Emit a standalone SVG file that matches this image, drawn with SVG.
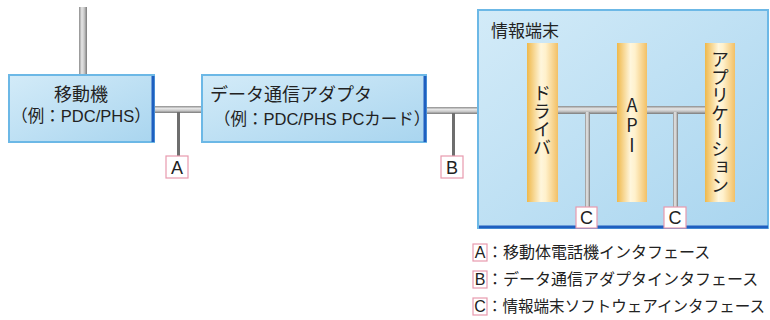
<svg xmlns="http://www.w3.org/2000/svg" width="770" height="320" viewBox="0 0 770 320">
<defs>
<linearGradient id="boxFill" x1="0" y1="0" x2="1" y2="1">
<stop offset="0" stop-color="#d3ebf8"/>
<stop offset="1" stop-color="#a9d5ef"/>
</linearGradient>
<linearGradient id="pillar" x1="0" y1="0" x2="1" y2="0">
<stop offset="0" stop-color="#efb84a"/>
<stop offset="0.45" stop-color="#fff6dc"/>
<stop offset="0.6" stop-color="#fff1cc"/>
<stop offset="1" stop-color="#f2c066"/>
</linearGradient>
<linearGradient id="barH" x1="0" y1="0" x2="0" y2="1">
<stop offset="0" stop-color="#8c8c8c"/>
<stop offset="0.35" stop-color="#e6e6e6"/>
<stop offset="0.65" stop-color="#c8c8c8"/>
<stop offset="1" stop-color="#7a7a7a"/>
</linearGradient>
<linearGradient id="barV" x1="0" y1="0" x2="1" y2="0">
<stop offset="0" stop-color="#8c8c8c"/>
<stop offset="0.35" stop-color="#e6e6e6"/>
<stop offset="0.65" stop-color="#c8c8c8"/>
<stop offset="1" stop-color="#7a7a7a"/>
</linearGradient>
</defs>
<style>
.box{fill:url(#boxFill);stroke:#6cb8e6;stroke-width:2}
.edge{stroke:#1f5fc0;stroke-width:3;fill:none}
.pil{fill:url(#pillar)}
.t{font-family:"Noto Sans CJK JP","Noto Sans",sans-serif;fill:#222}
.tl{font-family:"Liberation Sans","Noto Sans CJK JP",sans-serif;fill:#222}
.lbl{fill:#fff;stroke:#e89aae;stroke-width:1.2}
.thin{stroke:#6e6e6e;stroke-width:3}
.vt{writing-mode:vertical-rl;font-size:18px}
</style>

<g id="connectors">
<rect x="79" y="7" width="8" height="68" fill="url(#barV)"/>
<rect x="154" y="106" width="48" height="7" fill="url(#barH)"/>
<line class="thin" x1="178.5" y1="112" x2="178.5" y2="156"/>
<rect x="426" y="107" width="53" height="7" fill="url(#barH)"/>
<line class="thin" x1="453.5" y1="113" x2="453.5" y2="156"/>
</g>

<g id="node-mobile">
<rect class="box" x="9" y="75" width="145" height="67"/>
<line class="edge" x1="153" y1="76" x2="153" y2="142"/>
<text class="t" x="81" y="101" font-size="18" text-anchor="middle">移動機</text>
<text class="tl" x="81" y="122" font-size="16.5" text-anchor="middle">（例：PDC/PHS）</text>
</g>

<g id="node-adapter">
<rect class="box" x="202" y="75" width="224" height="67"/>
<line class="edge" x1="425" y1="76" x2="425" y2="142"/>
<text class="t" x="210" y="101" font-size="18">データ通信アダプタ</text>
<text class="tl" x="214" y="125" font-size="16.5">（例：PDC/PHS PCカード）</text>
</g>

<g id="node-terminal">
<rect class="box" x="478" y="10" width="290" height="218"/>
<line class="edge" x1="479" y1="227" x2="768" y2="227"/>
<text class="t" x="491" y="37" font-size="17">情報端末</text>
<g id="terminal-bus">
<rect x="556" y="106" width="151" height="8" fill="url(#barH)"/>
<rect x="585" y="112" width="5" height="96" fill="url(#barV)"/>
<rect x="673" y="112" width="5" height="96" fill="url(#barV)"/>
</g>
<g id="node-driver">
<rect class="pil" x="527" y="43" width="31" height="159"/>
<text class="t vt" x="542" y="120" text-anchor="middle">ドライバ</text>
</g>
<g id="node-api">
<rect class="pil" x="617" y="43" width="30" height="159"/>
<text class="t vt" x="632" y="126" text-anchor="middle" style="text-orientation:upright;letter-spacing:2px">API</text>
</g>
<g id="node-app">
<rect class="pil" x="705" y="43" width="30" height="159"/>
<text class="t vt" x="720" y="122" text-anchor="middle">アプリケーション</text>
</g>
</g>

<g id="label-A">
<rect class="lbl" x="166" y="156" width="22" height="22"/>
<text class="tl" x="177" y="174" font-size="18" text-anchor="middle">A</text>
</g>
<g id="label-B">
<rect class="lbl" x="441" y="156" width="22" height="22"/>
<text class="tl" x="452" y="174" font-size="18" text-anchor="middle">B</text>
</g>
<g id="label-C1">
<rect class="lbl" x="576" y="207" width="21" height="21"/>
<text class="tl" x="586.5" y="224" font-size="18" text-anchor="middle">C</text>
</g>
<g id="label-C2">
<rect class="lbl" x="664" y="207" width="22" height="21"/>
<text class="tl" x="675" y="224" font-size="18" text-anchor="middle">C</text>
</g>

<g id="legend">
<rect class="lbl" x="473" y="244" width="14" height="17"/>
<text class="tl" x="480" y="258" font-size="16" text-anchor="middle">A</text>
<text class="t" x="487" y="258" font-size="16">：移動体電話機インタフェース</text>
<rect class="lbl" x="473" y="271" width="14" height="17"/>
<text class="tl" x="480" y="285" font-size="16" text-anchor="middle">B</text>
<text class="t" x="487" y="285" font-size="16">：データ通信アダプタインタフェース</text>
<rect class="lbl" x="473" y="298" width="14" height="17"/>
<text class="tl" x="480" y="312" font-size="16" text-anchor="middle">C</text>
<text class="t" x="487" y="312" font-size="15.5" textLength="278" lengthAdjust="spacingAndGlyphs">：情報端末ソフトウェアインタフェース</text>
</g>
</svg>
